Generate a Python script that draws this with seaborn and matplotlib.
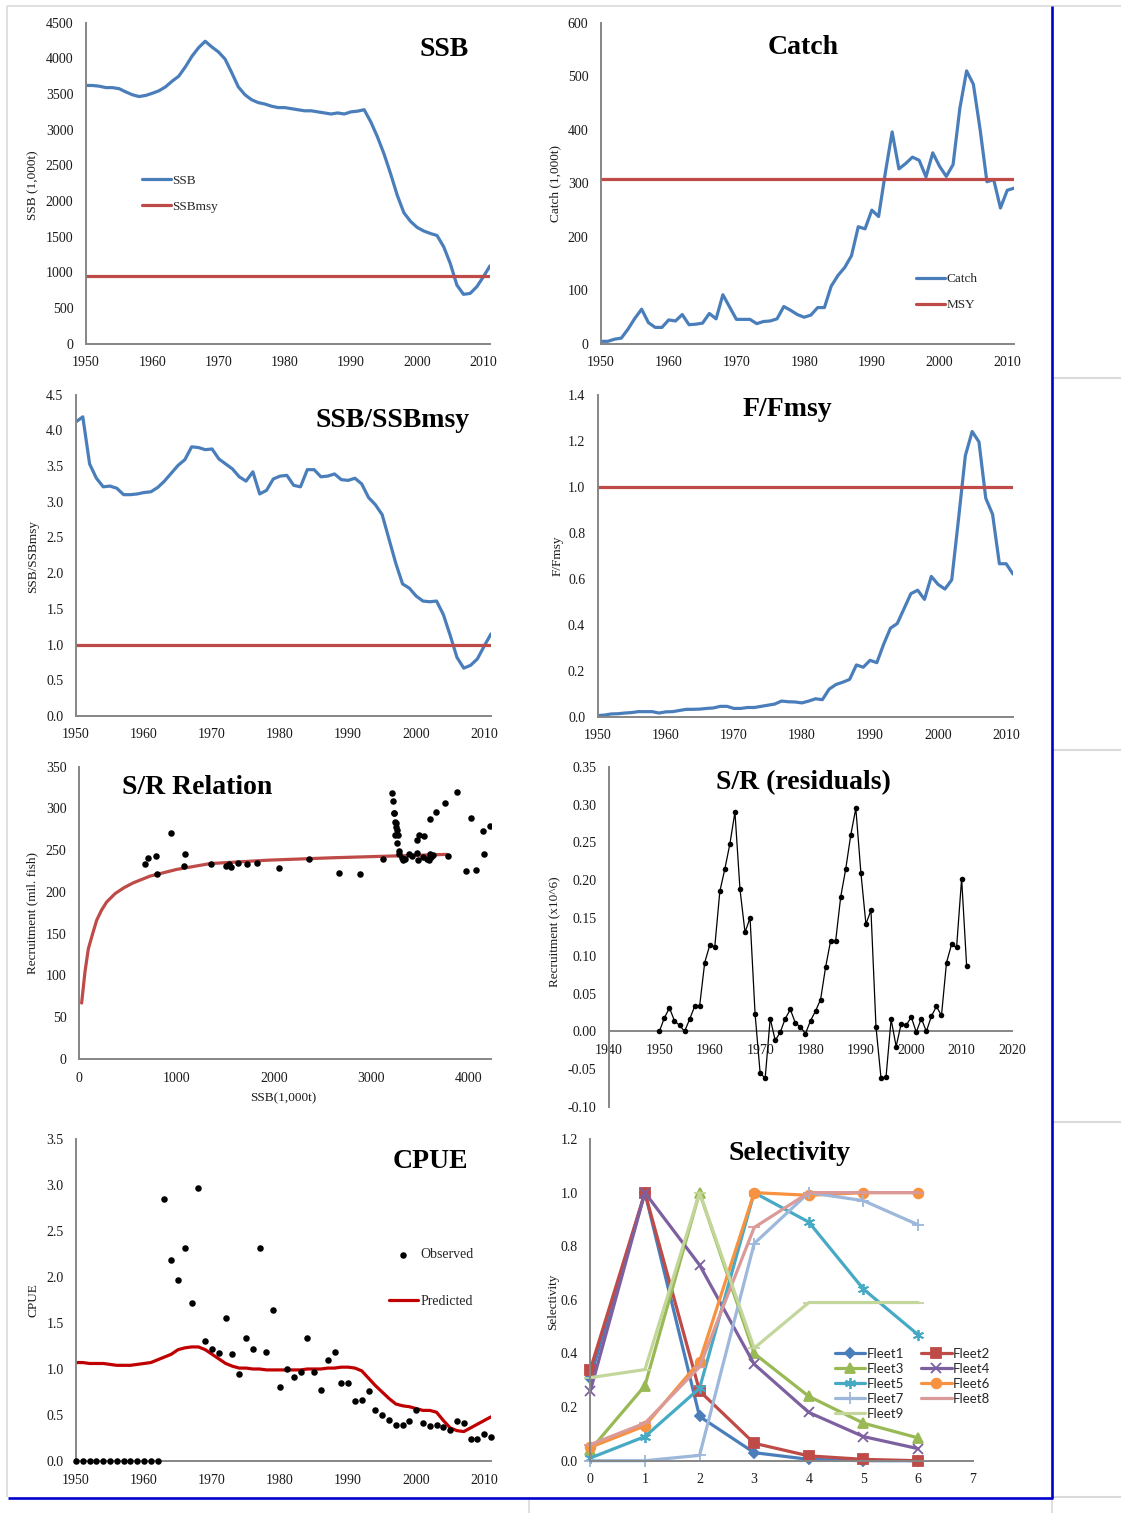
import numpy as np
import pandas as pd
import matplotlib
matplotlib.use("Agg")
import matplotlib.pyplot as plt
from matplotlib.lines import Line2D
import seaborn as sns

# ---------------- data ----------------
years = list(range(1950, 2012))

ssb = [3620, 3620, 3610, 3590, 3590, 3575, 3530, 3490, 3465, 3480,
       3510, 3545, 3600, 3680, 3750, 3880, 4030, 4150, 4240, 4160,
       4090, 3990, 3800, 3600, 3490, 3420, 3380, 3360, 3330, 3310,
       3310, 3295, 3280, 3265, 3265, 3250, 3235, 3220, 3235, 3220,
       3250, 3260, 3280, 3110, 2900, 2660, 2380, 2080, 1835, 1715,
       1630, 1580, 1545, 1517, 1360, 1125, 822, 692, 705, 798,
       938, 1092]
ssb_msy = 950

catch = [5, 5, 9, 11, 28, 48, 65, 40, 31, 31,
         45, 43, 55, 36, 37, 39, 57, 47, 92, 69,
         46, 46, 46, 38, 42, 43, 47, 70, 63, 55,
         50, 54, 68, 68, 108, 128, 143, 165, 219, 215,
         250, 238, 320, 396, 327, 337, 349, 343, 312, 357,
         332, 313, 335, 440, 510, 485, 400, 303, 307, 254,
         287, 291]
msy = 308

ssb_ratio = [4.12, 4.19, 3.53, 3.33, 3.21, 3.22, 3.19, 3.10, 3.10, 3.11,
             3.13, 3.14, 3.20, 3.29, 3.40, 3.51, 3.59, 3.77, 3.76, 3.73,
             3.74, 3.60, 3.53, 3.46, 3.35, 3.29, 3.42, 3.11, 3.16, 3.32,
             3.36, 3.37, 3.23, 3.21, 3.45, 3.45, 3.35, 3.36, 3.39, 3.31,
             3.30, 3.33, 3.25, 3.06, 2.96, 2.82, 2.48, 2.14, 1.85, 1.79,
             1.68, 1.61, 1.60, 1.61, 1.42, 1.13, 0.82, 0.67, 0.71, 0.80,
             0.98, 1.15]

f_ratio = [0.005, 0.007, 0.012, 0.013, 0.016, 0.018, 0.022, 0.022, 0.022, 0.016,
           0.021, 0.022, 0.027, 0.032, 0.032, 0.033, 0.036, 0.038, 0.045, 0.045,
           0.036, 0.036, 0.040, 0.040, 0.045, 0.050, 0.055, 0.068, 0.065, 0.064,
           0.060, 0.068, 0.078, 0.074, 0.120, 0.140, 0.150, 0.162, 0.225, 0.215,
           0.245, 0.235, 0.315, 0.385, 0.405, 0.470, 0.535, 0.550, 0.510, 0.610,
           0.575, 0.555, 0.595, 0.860, 1.135, 1.240, 1.195, 0.950, 0.880, 0.665,
           0.665, 0.620]

sr_ssb = [678, 706, 791, 801, 945, 1079, 1089, 1356, 1507, 1538,
          1565, 1634, 1723, 1832, 2052, 2363, 2665, 2880, 3117, 3216,
          3226, 3230, 3237, 3240, 3250, 3257, 3260, 3240, 3271, 3267,
          3281, 3288, 3315, 3326, 3350, 3384, 3418, 3470, 3473, 3479,
          3493, 3538, 3531, 3572, 3596, 3600, 3607, 3617, 3634, 3668,
          3754, 3788, 3880, 3970, 4021, 4079, 4144, 4155, 4223]
sr_rec = [234, 241, 243, 222, 271, 231, 245, 233, 231, 234,
          230, 235, 234, 235, 229, 239, 223, 222, 239, 319,
          309, 295, 294, 284, 282, 278, 274, 268, 268, 259,
          249, 245, 241, 238, 240, 246, 243, 247, 262, 238,
          268, 267, 242, 240, 238, 287, 246, 242, 244, 296,
          306, 243, 320, 225, 289, 226, 273, 245, 279]
sr_curve_ssb = [27, 62, 96, 140, 181, 230, 284, 370, 460, 558, 730, 1003,
                1346, 1928, 2613, 3200, 3778]
sr_curve_rec = [67, 105, 132, 150, 166, 178, 188, 198, 205, 211, 219, 227,
                234, 238, 241, 243, 245]

resid = [0.000, 0.018, 0.031, 0.014, 0.008, 0.000, 0.016, 0.033, 0.034, 0.091,
         0.114, 0.112, 0.185, 0.215, 0.248, 0.290, 0.188, 0.131, 0.150, 0.023,
         -0.055, -0.062, 0.017, -0.012, -0.001, 0.017, 0.029, 0.011, 0.006, -0.003,
         0.014, 0.027, 0.042, 0.085, 0.120, 0.120, 0.178, 0.215, 0.260, 0.295,
         0.210, 0.142, 0.160, 0.006, -0.062, -0.060, 0.016, -0.020, 0.010, 0.008,
         0.019, -0.001, 0.017, 0.000, 0.020, 0.033, 0.021, 0.091, 0.115, 0.111,
         0.202, 0.086]

cpue_obs = [0, 0, 0, 0, 0, 0, 0, 0, 0, 0,
            0, 0, 0, 2.85, 2.19, 1.97, 2.31, 1.72, 2.97, 1.30,
            1.22, 1.17, 1.55, 1.16, 0.95, 1.34, 1.22, 2.32, 1.19, 1.64,
            0.80, 1.00, 0.91, 0.97, 1.34, 0.97, 0.77, 1.10, 1.19, 0.85,
            0.85, 0.65, 0.66, 0.76, 0.55, 0.50, 0.45, 0.39, 0.39, 0.44,
            0.55, 0.41, 0.38, 0.39, 0.37, 0.34, 0.43, 0.41, 0.24, 0.24,
            0.29, 0.26]
cpue_pred = [1.07, 1.07, 1.06, 1.06, 1.06, 1.05, 1.04, 1.04, 1.04, 1.05,
             1.06, 1.07, 1.10, 1.13, 1.16, 1.21, 1.23, 1.24, 1.24, 1.21,
             1.16, 1.11, 1.06, 1.03, 1.01, 1.01, 1.00, 1.00, 0.99, 0.99,
             0.99, 0.99, 0.99, 0.99, 1.00, 1.00, 1.00, 1.01, 1.01, 1.02,
             1.02, 1.01, 0.98, 0.90, 0.82, 0.75, 0.68, 0.62, 0.60, 0.59,
             0.57, 0.55, 0.55, 0.53, 0.44, 0.36, 0.33, 0.32, 0.36, 0.40,
             0.44, 0.48]

ages = [0, 1, 2, 3, 4, 5, 6]
fleet_names = ["Fleet1", "Fleet2", "Fleet3", "Fleet4", "Fleet5",
               "Fleet6", "Fleet7", "Fleet8", "Fleet9"]
fleet1 = [0.31, 1.00, 0.165, 0.03, 0.005, 0.0, 0.0]
fleet2 = [0.34, 1.00, 0.26, 0.065, 0.018, 0.005, 0.0]
fleet3 = [0.04, 0.28, 1.00, 0.40, 0.24, 0.14, 0.085]
fleet4 = [0.26, 1.00, 0.73, 0.36, 0.18, 0.09, 0.045]
fleet5 = [0.01, 0.09, 0.27, 1.00, 0.89, 0.64, 0.47]
fleet6 = [0.05, 0.13, 0.37, 1.00, 0.99, 1.00, 1.00]
fleet7 = [0.0, 0.0, 0.02, 0.81, 1.00, 0.97, 0.88]
fleet8 = [0.06, 0.14, 0.35, 0.87, 1.00, 1.00, 1.00]
fleet9 = [0.31, 0.34, 1.00, 0.42, 0.59, 0.59, 0.59]
fleets = [fleet1, fleet2, fleet3, fleet4, fleet5, fleet6, fleet7, fleet8, fleet9]

# ---------------- style ----------------
sns.set_theme(style="white")
plt.rcParams["font.family"] = ["Liberation Serif", "DejaVu Serif"]
plt.rcParams["axes.unicode_minus"] = False

BLUE = "#4A7EBB"
RED = "#BE4B48"
DARKRED = "#C00000"
SPINE = "#868686"
TXT = "#1a1a1a"
TICK_FS = 10
LAB_FS = 9.5
TITLE_FS = 20

W, H = 1121, 1513
fig = plt.figure(figsize=(W / 100, H / 100), dpi=100)
fig.patch.set_facecolor("white")


def add_ax(left, top, right, bottom):
    return fig.add_axes([left / W, 1 - bottom / H, (right - left) / W, (bottom - top) / H])


def style(ax):
    sns.despine(ax=ax)
    for s in ["left", "bottom"]:
        ax.spines[s].set_color(SPINE)
        ax.spines[s].set_linewidth(1.4)
    ax.tick_params(direction="out", length=2.5, width=1.0, color=SPINE,
                   labelsize=TICK_FS, labelcolor=TXT, pad=6.5)
    ax.set_facecolor("none")
    ax.grid(False)


def ftitle(x, y, s):
    fig.text(x / W, 1 - y / H, s, ha="center", va="center",
             fontsize=TITLE_FS, fontweight="bold", color="black")


def ylab(ax, s, x, y):
    ax.set_ylabel(s, fontsize=LAB_FS, color=TXT)
    ax.yaxis.set_label_coords(x, y)


df_year = pd.DataFrame({"year": years, "ssb": ssb, "catch": catch,
                        "ssb_ratio": ssb_ratio, "f_ratio": f_ratio,
                        "resid": resid, "cpue_obs": cpue_obs,
                        "cpue_pred": cpue_pred})
decade_ticks = list(range(1950, 2011, 10))

# ---- Panel 1: SSB ----
ax1 = add_ax(86, 22.7, 490, 343.7)
sns.lineplot(data=df_year, x="year", y="ssb", ax=ax1, color=BLUE, linewidth=2.3, label="SSB")
ax1.axhline(ssb_msy, color=RED, linewidth=2.3, label="SSBmsy")
ax1.set_xlim(1950, 2011)
ax1.set_ylim(0, 4500)
ax1.set_yticks(range(0, 4501, 500))
ax1.set_xticks(decade_ticks)
ax1.set_xlabel("")
style(ax1)
ylab(ax1, "SSB (1,000t)", -0.115, 0.494)
ax1.legend(loc="upper left", bbox_to_anchor=(0.139, 0.527), frameon=False,
           fontsize=LAB_FS, handlelength=2.2, handletextpad=0.1,
           labelspacing=1.05, borderpad=0, borderaxespad=0)
ftitle(444, 49, "SSB")

# ---- Panel 2: Catch ----
ax2 = add_ax(601, 22.7, 1014, 344)
sns.lineplot(data=df_year, x="year", y="catch", ax=ax2, color=BLUE, linewidth=2.3, label="Catch")
ax2.axhline(msy, color=RED, linewidth=2.3, label="MSY")
ax2.set_xlim(1950, 2011)
ax2.set_ylim(0, 600)
ax2.set_yticks(range(0, 601, 100))
ax2.set_xticks(decade_ticks)
ax2.set_xlabel("")
style(ax2)
ylab(ax2, "Catch (1,000t)", -0.0956, 0.50)
ax2.legend(loc="upper left", bbox_to_anchor=(0.763, 0.221), frameon=False,
           fontsize=LAB_FS, handlelength=2.2, handletextpad=0.1,
           labelspacing=1.05, borderpad=0, borderaxespad=0)
ftitle(803, 47, "Catch")

# ---- Panel 3: SSB/SSBmsy ----
ax3 = add_ax(76, 394.7, 491, 716)
sns.lineplot(data=df_year, x="year", y="ssb_ratio", ax=ax3, color=BLUE, linewidth=2.3)
ax3.axhline(1.0, color=RED, linewidth=2.3)
ax3.set_xlim(1950, 2011)
ax3.set_ylim(0, 4.5)
ax3.set_yticks(np.arange(0, 4.51, 0.5))
ax3.yaxis.set_major_formatter(matplotlib.ticker.FormatStrFormatter("%.1f"))
ax3.set_xticks(decade_ticks)
ax3.set_xlabel("")
style(ax3)
ylab(ax3, "SSB/SSBmsy", -0.088, 0.495)
ftitle(393, 421, "SSB/SSBmsy")

# ---- Panel 4: F/Fmsy ----
ax4 = add_ax(597.7, 394.7, 1013, 716.7)
sns.lineplot(data=df_year, x="year", y="f_ratio", ax=ax4, color=BLUE, linewidth=2.3)
ax4.axhline(1.0, color=RED, linewidth=2.3)
ax4.set_xlim(1950, 2011)
ax4.set_ylim(0, 1.4)
ax4.set_yticks(np.arange(0, 1.41, 0.2))
ax4.yaxis.set_major_formatter(matplotlib.ticker.FormatStrFormatter("%.1f"))
ax4.set_xticks(decade_ticks)
ax4.set_xlabel("")
style(ax4)
ylab(ax4, "F/Fmsy", -0.082, 0.50)
ftitle(787, 410, "F/Fmsy")

# ---- Panel 5: S/R relation ----
ax5 = add_ax(79, 766.7, 490.7, 1059)
sns.lineplot(x=sr_curve_ssb, y=sr_curve_rec, ax=ax5, color=RED, linewidth=2.3)
sns.scatterplot(x=sr_ssb, y=sr_rec, ax=ax5, color="black", s=22, linewidth=0, zorder=3)
ax5.set_xlim(0, 4227)
ax5.set_ylim(0, 350)
ax5.set_yticks(range(0, 351, 50))
ax5.set_xticks(range(0, 4001, 1000))
style(ax5)
ylab(ax5, "Recruitment (mil. fish)", -0.098, 0.50)
ax5.set_xlabel("SSB(1,000t)", fontsize=LAB_FS, color=TXT)
ax5.xaxis.set_label_coords(0.496, -0.113)
ftitle(197, 787, "S/R Relation")

# ---- Panel 6: S/R residuals ----
ax6 = add_ax(609, 766.7, 1012, 1107)
sns.lineplot(data=df_year, x="year", y="resid", ax=ax6, color="black", linewidth=0.9,
             marker="o", markersize=4, markeredgewidth=0, zorder=3)
ax6.set_xlim(1940, 2020)
ax6.set_ylim(-0.10, 0.35)
ax6.set_yticks(np.arange(-0.10, 0.351, 0.05))
ax6.yaxis.set_major_formatter(matplotlib.ticker.FormatStrFormatter("%.2f"))
ax6.set_xticks(range(1940, 2021, 10))
ax6.set_xlabel("")
style(ax6)
ax6.spines["bottom"].set_position(("data", 0))
ylab(ax6, "Recruitment (x10^6)", -0.118, 0.514)
ftitle(803, 783, "S/R (residuals)")

# ---- Panel 7: CPUE ----
ax7 = add_ax(76, 1139, 491, 1461)
sns.scatterplot(data=df_year, x="year", y="cpue_obs", ax=ax7, color="black", s=22,
                linewidth=0, label="Observed", zorder=3, clip_on=False)
sns.lineplot(data=df_year, x="year", y="cpue_pred", ax=ax7, color=DARKRED, linewidth=2.3,
             label="Predicted")
ax7.set_xlim(1950, 2011)
ax7.set_ylim(0, 3.5)
ax7.set_yticks(np.arange(0, 3.51, 0.5))
ax7.yaxis.set_major_formatter(matplotlib.ticker.FormatStrFormatter("%.1f"))
ax7.set_xticks(decade_ticks)
ax7.set_xlabel("")
style(ax7)
ylab(ax7, "CPUE", -0.088, 0.50)
ax7.legend(loc="upper left", bbox_to_anchor=(0.754, 0.66), frameon=False,
           fontsize=10, handlelength=2.1, handletextpad=0.2,
           labelspacing=2.4, borderpad=0, borderaxespad=0)
ftitle(430, 1162, "CPUE")

# ---- Panel 8: Selectivity ----
ax8 = add_ax(590.3, 1139, 972.7, 1460.7)
sel_colors = ["#4A7EBB", "#BE4B48", "#98B954", "#7D60A0", "#46AAC5",
              "#F69240", "#9DB8DB", "#DA9A98", "#C3D69B"]
sel_markers = ["D", "s", "^", "x", (6, 2, 0), "o", "+", "_", "_"]
sel_msize = [5.5, 7, 7.5, 7, 8, 7, 9, 8, 8]
for name, vals, col, mk, ms in zip(fleet_names, fleets, sel_colors, sel_markers, sel_msize):
    sns.lineplot(x=ages, y=vals, ax=ax8, color=col, linewidth=2.3, marker=mk,
                 markersize=ms, markeredgecolor=col, markerfacecolor=col,
                 markeredgewidth=1.3, label=name, clip_on=False)
ax8.set_xlim(0, 7)
ax8.set_ylim(0, 1.2)
ax8.set_yticks(np.arange(0, 1.21, 0.2))
ax8.yaxis.set_major_formatter(matplotlib.ticker.FormatStrFormatter("%.1f"))
ax8.set_xticks(range(0, 8))
style(ax8)
ylab(ax8, "Selectivity", -0.081, 0.493)
h, l = ax8.get_legend_handles_labels()
order = [0, 2, 4, 6, 8, 1, 3, 5, 7]
ax8.legend([h[i] for i in order], [l[i] for i in order], ncol=2,
           loc="upper left", bbox_to_anchor=(0.64, 0.35), frameon=False,
           prop={"family": ["Lato", "DejaVu Sans"], "size": 9.5},
           handlelength=2.3, handletextpad=0.1, labelspacing=0.22,
           columnspacing=1.3, borderpad=0, borderaxespad=0)
ftitle(789, 1153, "Selectivity")

# ---------------- page decorations ----------------
def fline(x0, y0, x1, y1, color, lw):
    fig.add_artist(Line2D([x0 / W, x1 / W], [1 - y0 / H, 1 - y1 / H],
                          transform=fig.transFigure, color=color, linewidth=lw,
                          solid_capstyle="butt"))

GRAY = "#DADADA"
fline(7, 6, 1121, 6, GRAY, 1.2)
fline(7, 6, 7, 1497, GRAY, 1.2)
for yy in (378, 750, 1122, 1497):
    fline(1052, yy, 1121, yy, GRAY, 1.5)
fline(529, 1497, 529, 1513, GRAY, 1.2)
fline(1051.5, 1497, 1051.5, 1513, GRAY, 1.2)
fline(1051.5, 6, 1051.5, 1498, "#0000CC", 1.9)
fline(8, 1497.5, 1052.5, 1497.5, "#0000CC", 1.9)

fig.savefig("out.png", dpi=100, facecolor="white")
